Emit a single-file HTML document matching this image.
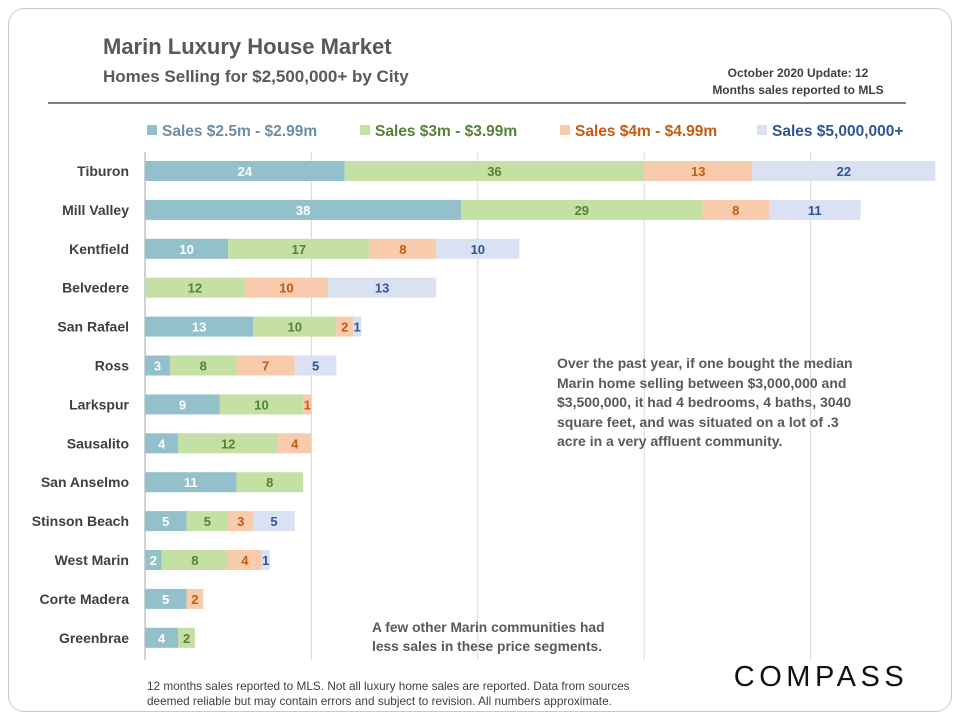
<!DOCTYPE html>
<html><head><meta charset="utf-8"><style>
body{margin:0;background:#fff;width:960px;height:720px;overflow:hidden;font-family:"Liberation Sans",sans-serif}
</style></head><body>
<svg width="960" height="720" style="position:absolute;left:0;top:0">
<rect x="8.5" y="8.5" width="943" height="703" rx="16" fill="#fff" stroke="#c8c8c8"/>
<text x="103" y="54" font-size="22" font-weight="bold" fill="#595959">Marin Luxury House Market</text>
<text x="103" y="82" font-size="17" font-weight="bold" fill="#595959">Homes Selling for $2,500,000+ by City</text>
<text x="798" y="77" font-size="12" font-weight="bold" fill="#404040" text-anchor="middle">October 2020 Update: 12</text>
<text x="798" y="94" font-size="12" font-weight="bold" fill="#404040" text-anchor="middle">Months sales reported to MLS</text>
<line x1="48" y1="103" x2="906" y2="103" stroke="#7f7f7f" stroke-width="2"/>
<g id="legend"></g>
<g id="grid"></g>
<g id="bars"></g>
<g font-size="14" font-weight="bold" fill="#595959">
<text x="557" y="368">Over the past year, if one bought the median</text>
<text x="557" y="388">Marin home selling between $3,000,000 and</text>
<text x="557" y="407">$3,500,000, it had 4 bedrooms, 4 baths, 3040</text>
<text x="557" y="427">square feet, and was situated on a lot of .3</text>
<text x="557" y="446">acre in a very affluent community.</text>
</g>
<g font-size="13.8" font-weight="bold" fill="#595959">
<text x="372" y="632">A few other Marin communities had</text>
<text x="372" y="651">less sales in these price segments.</text>
</g>
<g font-size="11.8" fill="#404040">
<text x="147" y="690">12 months sales reported to MLS. Not all luxury home sales are reported. Data from sources</text>
<text x="147" y="705">deemed reliable but may contain errors and subject to revision. All numbers approximate.</text>
</g>
<text x="821" y="686" font-size="29" fill="#111" text-anchor="middle" letter-spacing="4.5">COMPASS</text>
</svg>
<script>
const cities=["Tiburon","Mill Valley","Kentfield","Belvedere","San Rafael","Ross","Larkspur","Sausalito","San Anselmo","Stinson Beach","West Marin","Corte Madera","Greenbrae"];
const s1=[24,38,10,0,13,3,9,4,11,5,2,5,4];
const s2=[36,29,17,12,10,8,10,12,8,5,8,0,2];
const s3=[13,8,8,10,2,7,1,4,0,3,4,2,0];
const s4=[22,11,10,13,1,5,0,0,0,5,1,0,0];
const seriesNames=["Sales $2.5m - $2.99m","Sales $3m - $3.99m","Sales $4m - $4.99m","Sales $5,000,000+"];
const gridTicks=[0,20,40,60,80];
const NS="http://www.w3.org/2000/svg";
const fills=["#92c0cb","#c5e0a5","#f8cbad","#d9e1f2"];
const tcol=["#ffffff","#548235","#c55a11","#2f5597"];
const lcol=["#6b8ea8","#548235","#c55a11","#2f5597"];
const x0=145,pxu=8.32,yTop=171,step=38.9,bh=20;
const X=v=>x0+v*pxu, Y=i=>yTop+i*step;
function mk(t,a,p){const e=document.createElementNS(NS,t);for(const k in a)e.setAttribute(k,a[k]);p.appendChild(e);return e;}
const grid=document.getElementById('grid');
gridTicks.forEach(t=>{
 const l=mk('line',{x1:X(t),x2:X(t),y1:152,y2:660,stroke:t===0?'#a6a6a6':'#d9d9d9'},grid);
 
 
});
const bars=document.getElementById('bars');
const series=[s1,s2,s3,s4];
cities.forEach((c,i)=>{
 const lb=mk('text',{x:129,y:Y(i)+5,'text-anchor':'end','font-size':14,'font-weight':'bold',fill:'#404040'},bars);
 lb.textContent=c;
 
 
 let acc=0;
 series.forEach((s,k)=>{
  const v=s[i]; if(!v)return;
  const r=mk('rect',{x:X(acc),y:Y(i)-bh/2,width:v*pxu,height:bh,fill:fills[k]},bars);
  
  
  const t=mk('text',{x:X(acc+v/2),y:Y(i)+5,'text-anchor':'middle','font-size':13,'font-weight':'bold',fill:tcol[k]},bars);
  t.textContent=v;
  
  
  acc+=v;
 });
});
const lg=document.getElementById('legend');
const lx=[147,360,560,757];
seriesNames.forEach((n,k)=>{
 const r=mk('rect',{x:lx[k],y:125,width:10,height:10,fill:fills[k]},lg);
 
 
 const t=mk('text',{x:lx[k]+15,y:136,'font-size':15.5,'font-weight':'bold',fill:lcol[k]},lg);
 t.textContent=n;
 
 
});
</script>
</body></html>
